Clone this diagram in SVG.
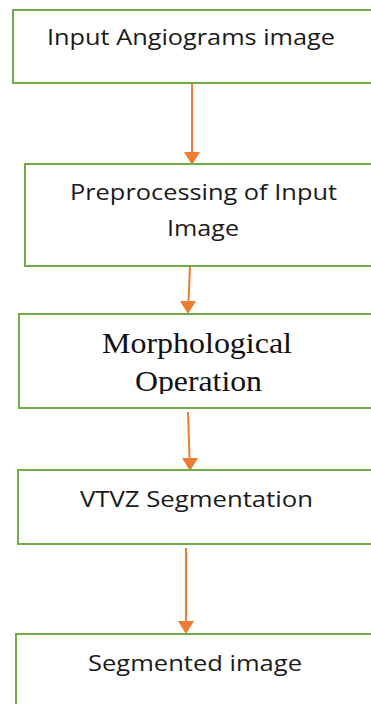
<svg xmlns="http://www.w3.org/2000/svg" width="371" height="704" viewBox="0 0 371 704">
<style>
.box{fill:#fff;stroke:#70AD47;stroke-width:2}
.t{font-family:"Open Sans","Noto Sans",sans-serif;font-size:21px;fill:#1a1a1a}
.s{font-family:"Liberation Serif","Times New Roman",serif;font-size:30px;fill:#111}
.c{stroke:#ED7D31;stroke-width:2;fill:none}
</style>
<defs>
<marker id="ah" viewBox="0 0 16 13" refX="8" refY="13" markerWidth="16" markerHeight="13" markerUnits="userSpaceOnUse" orient="auto-start-reverse">
<path d="M0,0 L16,0 L8,13 Z" fill="#ED7D31"/>
</marker>
<clipPath id="clipOp"><rect x="0" y="300" width="371" height="94"/></clipPath>
</defs>
<rect width="371" height="704" fill="#fff"/>
<g id="connectors">
<line class="c" x1="192" y1="84" x2="192" y2="152"/>
<path d="M184,152 L200,152 L192,165 Z" fill="#ED7D31"/>
<line class="c" x1="190" y1="267" x2="188.5" y2="301"/>
<path d="M180,301 L196,301 L188,314 Z" fill="#ED7D31"/>
<line class="c" x1="188" y1="412" x2="189.5" y2="458"/>
<path d="M182,458 L198,458 L190,471 Z" fill="#ED7D31"/>
<line class="c" x1="186" y1="548" x2="186" y2="621"/>
<path d="M178,621 L194,621 L186,634 Z" fill="#ED7D31"/>
</g>
<g id="n1">
<rect class="box" x="13" y="10" width="370" height="73"/>
<text class="t" x="47" y="45" textLength="288" lengthAdjust="spacingAndGlyphs">Input Angiograms image</text>
</g>
<g id="n2">
<rect class="box" x="25" y="164" width="360" height="102"/>
<text class="t" x="70" y="200" textLength="267" lengthAdjust="spacingAndGlyphs">Preprocessing of Input</text>
<text class="t" x="167" y="236" textLength="72" lengthAdjust="spacingAndGlyphs">Image</text>
</g>
<g id="n3">
<rect class="box" x="19" y="314" width="370" height="94"/>
<text class="s" x="102" y="353" textLength="190" lengthAdjust="spacingAndGlyphs">Morphological</text>
<text class="s" x="135" y="391" textLength="127" lengthAdjust="spacingAndGlyphs" clip-path="url(#clipOp)">Operation</text>
</g>
<g id="n4">
<rect class="box" x="18" y="470" width="370" height="74"/>
<text class="t" x="80" y="507" textLength="233" lengthAdjust="spacingAndGlyphs">VTVZ Segmentation</text>
</g>
<g id="n5">
<rect class="box" x="16" y="634" width="370" height="90"/>
<text class="t" x="88" y="671" textLength="214" lengthAdjust="spacingAndGlyphs">Segmented image</text>
</g>
</svg>
